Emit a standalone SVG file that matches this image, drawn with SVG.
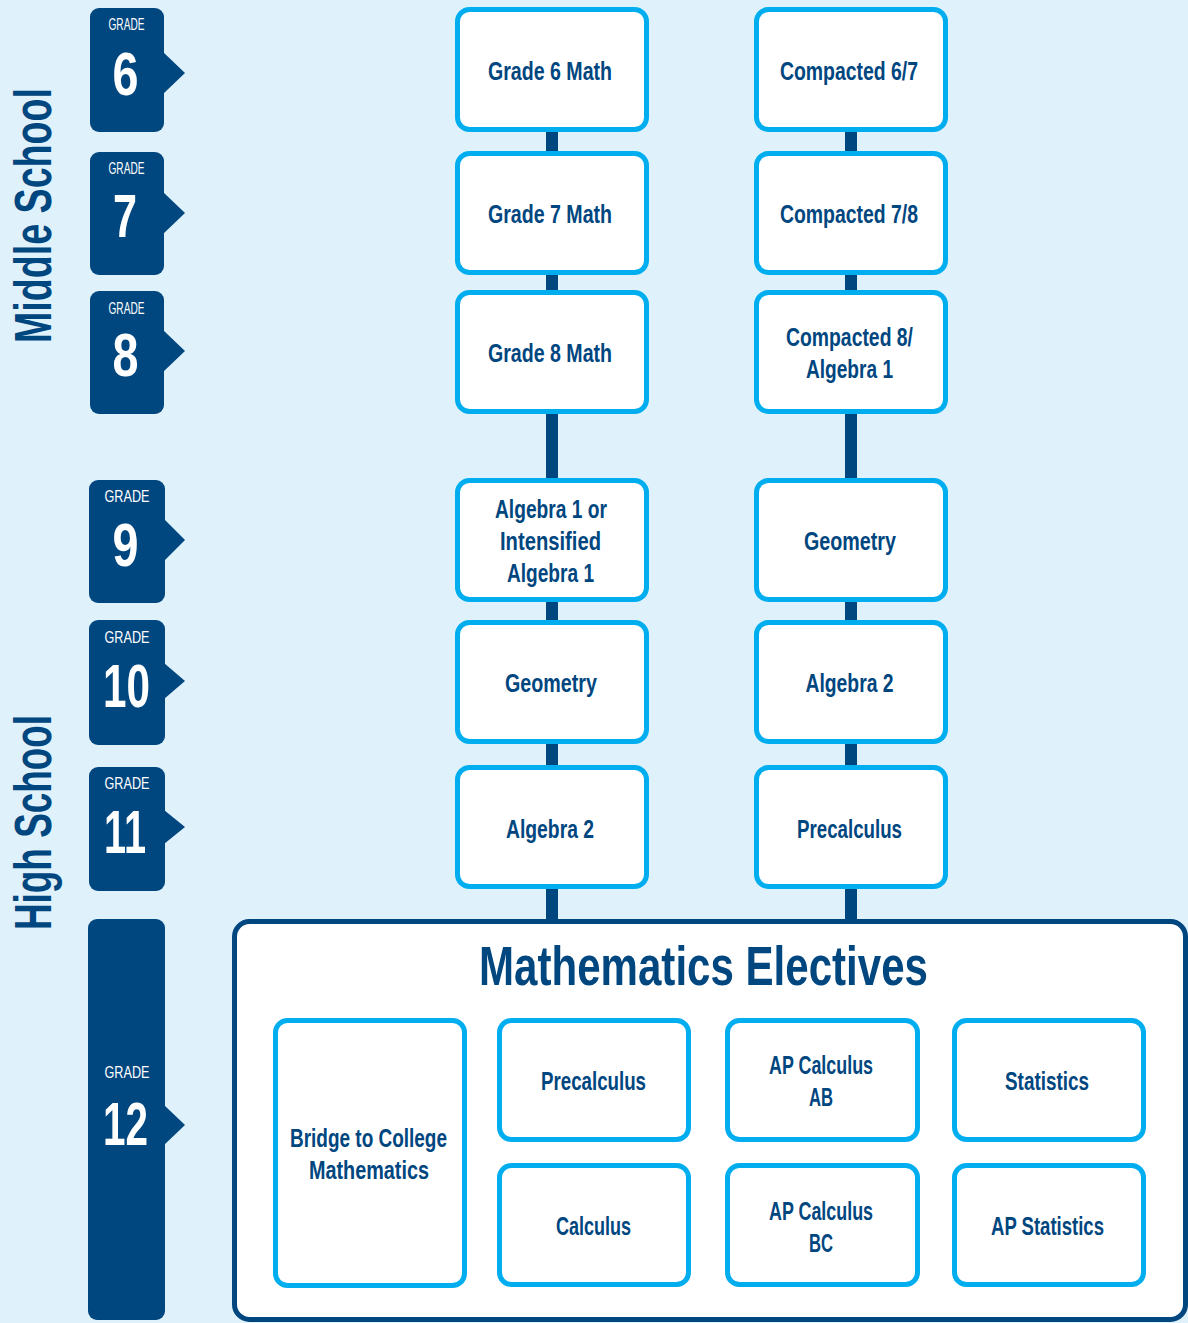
<svg xmlns="http://www.w3.org/2000/svg" width="1188" height="1323" viewBox="0 0 1188 1323">
<style>
text{font-family:"Liberation Sans",Arial,sans-serif;font-weight:bold;text-anchor:middle}
.tab{fill:#00467f}
.gl{fill:#fff;font-size:17px;font-weight:normal}
.gn{fill:#fff;font-size:62px}
.box{fill:#fff;stroke:#00aeef;stroke-width:5}
.lbl{fill:#00467f;font-size:25px}
.side{fill:#00467f;font-size:51px}
.con{stroke:#00467f;stroke-width:12}
</style>
<rect width="1188" height="1323" fill="#dff1fb"/>
<g id="side-labels">
<text class="side" transform="translate(51,215.5) rotate(-90)" textLength="255" lengthAdjust="spacingAndGlyphs">Middle School</text>
<text class="side" transform="translate(51,822.5) rotate(-90)" textLength="215" lengthAdjust="spacingAndGlyphs">High School</text>
</g>
<g id="grade-6"><rect class="tab" x="90" y="8" width="74" height="124" rx="9"/><polygon class="tab" points="163,52 185,73 163,94"/><text class="gl" x="126.5" y="30" textLength="36" lengthAdjust="spacingAndGlyphs">GRADE</text><text class="gn" x="125.5" y="95" textLength="26" lengthAdjust="spacingAndGlyphs">6</text></g>
<g id="grade-7"><rect class="tab" x="90" y="152" width="74" height="123" rx="9"/><polygon class="tab" points="163,192 185,213 163,234"/><text class="gl" x="126.5" y="174" textLength="36" lengthAdjust="spacingAndGlyphs">GRADE</text><text class="gn" x="125" y="237" textLength="24" lengthAdjust="spacingAndGlyphs">7</text></g>
<g id="grade-8"><rect class="tab" x="90" y="291" width="74" height="123" rx="9"/><polygon class="tab" points="163,330 185,351 163,372"/><text class="gl" x="126.5" y="314" textLength="36" lengthAdjust="spacingAndGlyphs">GRADE</text><text class="gn" x="125.5" y="376" textLength="26" lengthAdjust="spacingAndGlyphs">8</text></g>
<g id="grade-9"><rect class="tab" x="89" y="480" width="76" height="123" rx="9"/><polygon class="tab" points="164,519 185,540 164,561"/><text class="gl" x="127" y="502" textLength="45" lengthAdjust="spacingAndGlyphs">GRADE</text><text class="gn" x="125.5" y="566" textLength="26" lengthAdjust="spacingAndGlyphs">9</text></g>
<g id="grade-10"><rect class="tab" x="89" y="620" width="76" height="125" rx="9"/><polygon class="tab" points="164,663 185,681 164,699"/><text class="gl" x="127" y="643" textLength="45" lengthAdjust="spacingAndGlyphs">GRADE</text><text class="gn" x="126.5" y="707" textLength="47" lengthAdjust="spacingAndGlyphs">10</text></g>
<g id="grade-11"><rect class="tab" x="89" y="767" width="76" height="124" rx="9"/><polygon class="tab" points="164,810 185,827 164,844"/><text class="gl" x="127" y="789" textLength="45" lengthAdjust="spacingAndGlyphs">GRADE</text><text class="gn" x="125" y="853" textLength="42" lengthAdjust="spacingAndGlyphs">11</text></g>
<g id="grade-12"><rect class="tab" x="88" y="919" width="77" height="401" rx="9"/><polygon class="tab" points="164,1105 185,1125 164,1145"/><text class="gl" x="127" y="1078" textLength="45" lengthAdjust="spacingAndGlyphs">GRADE</text><text class="gn" x="125.5" y="1145" textLength="45" lengthAdjust="spacingAndGlyphs">12</text></g>
<g id="connectors">
<line class="con" x1="552" y1="130" x2="552" y2="153"/>
<line class="con" x1="552" y1="273" x2="552" y2="292"/>
<line class="con" x1="552" y1="412" x2="552" y2="480"/>
<line class="con" x1="552" y1="600" x2="552" y2="622"/>
<line class="con" x1="552" y1="742" x2="552" y2="767"/>
<line class="con" x1="552" y1="887" x2="552" y2="922"/>
<line class="con" x1="851" y1="130" x2="851" y2="153"/>
<line class="con" x1="851" y1="273" x2="851" y2="292"/>
<line class="con" x1="851" y1="412" x2="851" y2="480"/>
<line class="con" x1="851" y1="600" x2="851" y2="622"/>
<line class="con" x1="851" y1="742" x2="851" y2="767"/>
<line class="con" x1="851" y1="887" x2="851" y2="922"/>
</g>
<g id="grade6-math"><rect class="box" x="457.5" y="9.5" width="189" height="120" rx="12"/><text class="lbl" x="550" y="80" textLength="124" lengthAdjust="spacingAndGlyphs">Grade 6 Math</text></g>
<g id="grade7-math"><rect class="box" x="457.5" y="153.5" width="189" height="119" rx="12"/><text class="lbl" x="550" y="223" textLength="124" lengthAdjust="spacingAndGlyphs">Grade 7 Math</text></g>
<g id="grade8-math"><rect class="box" x="457.5" y="292.5" width="189" height="119" rx="12"/><text class="lbl" x="550" y="362" textLength="124" lengthAdjust="spacingAndGlyphs">Grade 8 Math</text></g>
<g id="algebra1"><rect class="box" x="457.5" y="480.5" width="189" height="119" rx="12"/><text class="lbl" x="551" y="518" textLength="112" lengthAdjust="spacingAndGlyphs">Algebra 1 or</text><text class="lbl" x="550.5" y="550" textLength="101" lengthAdjust="spacingAndGlyphs">Intensified</text><text class="lbl" x="550.5" y="582" textLength="87" lengthAdjust="spacingAndGlyphs">Algebra 1</text></g>
<g id="geometry-l"><rect class="box" x="457.5" y="622.5" width="189" height="119" rx="12"/><text class="lbl" x="551" y="692" textLength="92" lengthAdjust="spacingAndGlyphs">Geometry</text></g>
<g id="algebra2-l"><rect class="box" x="457.5" y="767.5" width="189" height="119" rx="12"/><text class="lbl" x="550" y="838" textLength="88" lengthAdjust="spacingAndGlyphs">Algebra 2</text></g>
<g id="compacted67"><rect class="box" x="756.5" y="9.5" width="189" height="120" rx="12"/><text class="lbl" x="849" y="80" textLength="138" lengthAdjust="spacingAndGlyphs">Compacted 6/7</text></g>
<g id="compacted78"><rect class="box" x="756.5" y="153.5" width="189" height="119" rx="12"/><text class="lbl" x="849" y="223" textLength="138" lengthAdjust="spacingAndGlyphs">Compacted 7/8</text></g>
<g id="compacted8"><rect class="box" x="756.5" y="292.5" width="189" height="119" rx="12"/><text class="lbl" x="849.5" y="346" textLength="127" lengthAdjust="spacingAndGlyphs">Compacted 8/</text><text class="lbl" x="849.5" y="378" textLength="87" lengthAdjust="spacingAndGlyphs">Algebra 1</text></g>
<g id="geometry-r"><rect class="box" x="756.5" y="480.5" width="189" height="119" rx="12"/><text class="lbl" x="850" y="550" textLength="92" lengthAdjust="spacingAndGlyphs">Geometry</text></g>
<g id="algebra2-r"><rect class="box" x="756.5" y="622.5" width="189" height="119" rx="12"/><text class="lbl" x="849.5" y="692" textLength="88" lengthAdjust="spacingAndGlyphs">Algebra 2</text></g>
<g id="precalc-r"><rect class="box" x="756.5" y="767.5" width="189" height="119" rx="12"/><text class="lbl" x="849.5" y="838" textLength="105" lengthAdjust="spacingAndGlyphs">Precalculus</text></g>
<g id="electives">
<rect x="234.5" y="921.5" width="951" height="398" rx="15" fill="#fff" stroke="#00467f" stroke-width="5"/>
<text x="703.5" y="985" style="fill:#00467f;font-size:55px" textLength="449" lengthAdjust="spacingAndGlyphs">Mathematics Electives</text>
</g>
<g id="bridge"><rect class="box" x="275.5" y="1020.5" width="189" height="265" rx="12"/><text class="lbl" x="368.5" y="1147" textLength="157" lengthAdjust="spacingAndGlyphs">Bridge to College</text><text class="lbl" x="369" y="1179" textLength="120" lengthAdjust="spacingAndGlyphs">Mathematics</text></g>
<g id="precalc-e"><rect class="box" x="499.5" y="1020.5" width="189" height="119" rx="12"/><text class="lbl" x="593.5" y="1090" textLength="105" lengthAdjust="spacingAndGlyphs">Precalculus</text></g>
<g id="apcalc-ab"><rect class="box" x="727.5" y="1020.5" width="190" height="119" rx="12"/><text class="lbl" x="821" y="1074" textLength="104" lengthAdjust="spacingAndGlyphs">AP Calculus</text><text class="lbl" x="821" y="1106" textLength="24" lengthAdjust="spacingAndGlyphs">AB</text></g>
<g id="statistics"><rect class="box" x="954.5" y="1020.5" width="189" height="119" rx="12"/><text class="lbl" x="1047" y="1090" textLength="84" lengthAdjust="spacingAndGlyphs">Statistics</text></g>
<g id="calculus"><rect class="box" x="499.5" y="1165.5" width="189" height="119" rx="12"/><text class="lbl" x="593.5" y="1235" textLength="75" lengthAdjust="spacingAndGlyphs">Calculus</text></g>
<g id="apcalc-bc"><rect class="box" x="727.5" y="1165.5" width="190" height="119" rx="12"/><text class="lbl" x="821" y="1220" textLength="104" lengthAdjust="spacingAndGlyphs">AP Calculus</text><text class="lbl" x="821" y="1252" textLength="24" lengthAdjust="spacingAndGlyphs">BC</text></g>
<g id="ap-statistics"><rect class="box" x="954.5" y="1165.5" width="189" height="119" rx="12"/><text class="lbl" x="1047.5" y="1235" textLength="113" lengthAdjust="spacingAndGlyphs">AP Statistics</text></g>
</svg>
